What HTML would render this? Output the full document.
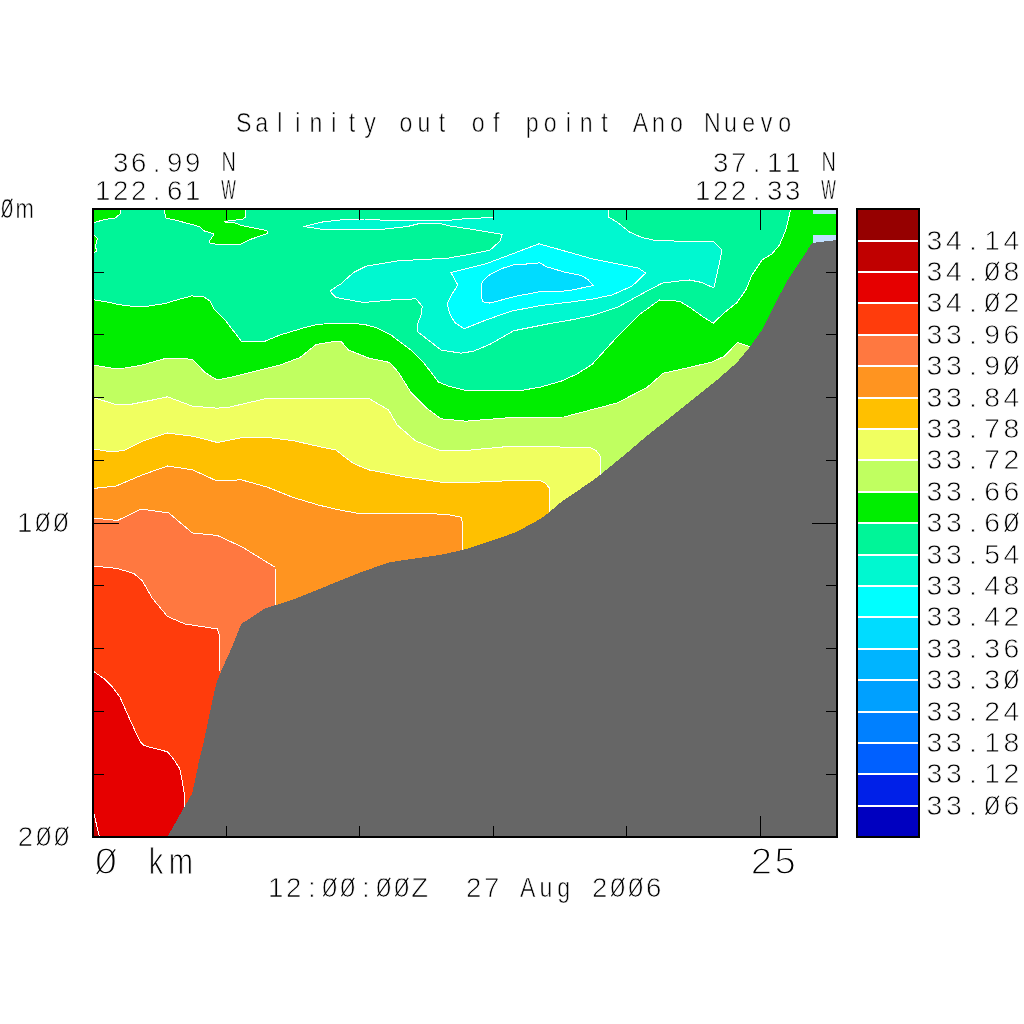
<!DOCTYPE html>
<html lang="en"><head><meta charset="utf-8"><title>Salinity out of point Ano Nuevo</title>
<style>
html,body{margin:0;padding:0;background:#fff;}
body{width:1024px;height:1024px;overflow:hidden;}
svg{display:block;}
.t{font-family:"Liberation Sans", "DejaVu Sans", sans-serif;fill:#000;stroke:#fff;paint-order:fill stroke;text-anchor:middle;white-space:pre;}
.z{stroke:#000;stroke-width:1.1;}
</style></head><body>
<svg width="1024" height="1024" viewBox="0 0 1024 1024">
<defs><clipPath id="cp"><rect x="93.0" y="209.0" width="744.0" height="628.0"/></clipPath></defs>
<rect x="0" y="0" width="1024" height="1024" fill="#fff"/>
<g clip-path="url(#cp)" stroke="#fff" stroke-width="1" stroke-linejoin="round" shape-rendering="crispEdges">
<rect x="93.0" y="209.0" width="744.0" height="628.0" fill="#00f598" stroke="none"/>
<polygon points="93.0,299.6 106.8,302.0 119.2,304.6 134.2,306.5 148.0,306.2 165.5,303.4 178.0,299.6 191.8,295.9 204.2,297.0 210.5,301.5 213.8,308.8 225.0,320.0 242.0,342.0 265.0,341.2 280.0,335.0 305.0,327.5 317.5,324.5 336.0,323.0 363.5,324.2 376.0,327.5 391.0,335.0 411.0,350.0 423.5,362.5 438.5,382.0 448.5,386.2 466.0,390.5 521.0,390.5 541.0,387.0 561.0,381.2 576.0,374.5 592.0,364.5 617.0,337.0 639.5,314.5 659.5,300.0 679.5,301.2 692.0,308.8 702.0,316.2 713.2,323.2 724.5,312.5 737.0,302.5 745.8,290.0 752.0,275.0 762.0,260.0 772.0,253.8 779.5,245.0 785.8,230.0 790.8,209.0 840.0,209.0 840.0,840.0 90.0,840.0 90.0,299.6" fill="#00ee00"/>
<polygon points="93.0,209.0 120.8,209.0 120.5,213.4 115.5,218.0 104.2,219.6 93.0,223.0" fill="#00ee00"/>
<polygon points="164.2,209.0 165.8,218.0 175.5,220.2 185.5,222.8 199.2,226.5 204.2,230.9 214.2,234.0 209.2,241.5 210.5,243.4 216.0,244.2 240.0,244.5 250.0,239.5 267.0,233.8 267.0,230.5 242.5,225.8 235.0,223.0 224.5,222.0 230.0,220.5 242.5,219.5 245.5,217.0 245.5,209.0" fill="#00ee00"/>
<polygon points="93.0,234.0 97.4,238.4 95.5,246.5 96.8,251.5 93.0,252.8" fill="#00ee00"/>
<polygon points="93.0,365.0 112.5,368.2 125.0,368.0 142.5,365.0 162.5,359.2 167.5,358.2 192.5,359.2 205.0,372.5 217.0,380.0 230.0,377.5 255.0,371.2 280.0,365.0 300.0,357.5 316.2,344.5 336.0,341.2 341.0,341.2 348.5,350.0 368.5,358.0 389.8,362.5 398.5,372.5 411.0,392.5 426.0,407.5 441.0,418.8 466.0,421.2 511.0,417.5 563.8,417.0 595.0,408.8 617.0,403.0 647.0,387.5 663.2,373.2 687.0,368.0 712.0,362.0 724.5,356.2 737.5,342.5 749.0,346.2 749.0,386.2 749.0,840.0 90.0,840.0 90.0,365.0" fill="#c0ff60"/>
<polygon points="93.0,397.5 117.5,405.0 130.0,404.5 152.5,400.0 167.5,396.8 192.5,406.2 217.5,408.2 230.0,407.0 265.0,398.8 292.5,398.2 336.0,399.0 368.5,398.2 388.5,410.0 397.2,425.0 416.0,441.2 438.5,450.0 471.0,450.0 511.0,446.2 590.0,447.5 596.2,450.6 600.0,455.6 600.6,475.0 600.6,515.0 600.6,840.0 90.0,840.0 90.0,397.5" fill="#f0ff60"/>
<polygon points="93.0,448.8 112.5,452.0 125.0,450.0 142.5,441.2 167.5,433.0 192.5,436.2 217.5,442.5 242.5,437.5 267.5,437.5 292.5,440.5 317.5,446.2 336.0,450.0 343.5,456.0 353.5,463.5 368.5,469.8 406.0,477.2 441.0,482.2 476.0,482.2 516.0,480.4 540.0,480.6 545.0,483.0 549.4,488.0 549.6,512.0 549.6,552.0 549.6,840.0 90.0,840.0 90.0,448.8" fill="#ffc000"/>
<polygon points="93.0,488.5 116.2,486.0 142.5,474.8 167.5,466.0 192.5,469.8 217.0,481.0 241.2,479.8 267.5,487.2 292.5,497.2 317.5,504.8 336.0,509.2 361.0,514.0 391.0,513.0 423.5,513.0 448.5,514.8 461.0,517.2 462.8,523.5 463.0,549.8 463.0,589.8 463.0,840.0 90.0,840.0 90.0,488.5" fill="#ff9420"/>
<polygon points="93.0,518.0 117.5,520.5 141.2,509.0 168.8,513.0 192.5,533.0 217.5,535.5 242.5,547.2 275.0,567.2 275.5,604.8 275.5,644.8 275.5,840.0 90.0,840.0 90.0,518.0" fill="#ff7840"/>
<polygon points="93.0,566.0 117.5,568.5 133.8,573.5 142.5,581.0 152.5,598.5 167.5,616.5 185.0,624.0 217.5,629.0 219.5,636.0 220.0,671.0 220.0,711.0 220.0,840.0 90.0,840.0 90.0,566.0" fill="#ff3c0c"/>
<polygon points="93.0,671.0 103.8,678.5 112.5,687.2 120.0,697.2 131.2,722.5 140.0,741.2 143.8,745.5 167.5,751.8 174.2,760.0 179.7,768.6 182.0,779.5 183.6,789.7 184.6,796.0 184.6,807.0 184.6,847.0 184.6,840.0 90.0,840.0 90.0,671.0" fill="#e60000"/>
<polygon points="90.0,810.0 93.0,810.0 99.5,837.0 90.0,840.0" fill="#c00000"/>
<polygon points="303.8,226.5 322.5,222.0 345.0,219.5 365.0,219.0 382.5,220.2 450.0,220.2 470.0,218.2 493.0,217.8 493.5,209.0 608.2,209.0 609.0,217.5 617.0,222.0 629.5,232.0 642.0,237.5 657.0,240.8 689.5,241.2 713.2,241.2 722.0,250.0 719.5,262.5 716.2,277.5 713.8,288.0 702.0,282.5 689.5,280.0 677.0,281.2 662.0,283.2 642.0,293.8 617.0,307.5 592.0,315.5 573.5,319.5 548.5,323.8 513.5,330.8 491.0,343.8 473.5,351.2 461.0,353.2 441.0,350.0 418.0,332.0 417.2,325.0 421.0,315.0 422.2,306.2 416.0,298.8 391.0,300.0 363.5,302.5 336.0,297.5 330.0,291.2 336.0,286.8 341.0,283.8 353.5,272.5 366.0,266.2 398.5,260.8 447.5,258.2 465.0,255.2 490.0,250.2 499.8,241.2 502.2,234.4 475.0,229.8 450.0,226.0 440.0,223.5 417.5,224.0 407.5,226.5 385.0,229.0 320.0,229.0" fill="#00f8d0"/>
<polygon points="451.0,272.5 486.0,263.8 516.0,252.5 539.0,243.8 561.0,250.0 592.0,258.8 617.0,263.8 638.2,268.0 645.8,273.0 632.0,286.2 612.0,295.0 592.0,299.2 571.0,302.0 541.0,305.5 511.0,311.2 486.0,320.0 464.0,328.8 454.8,322.5 449.8,313.8 447.2,303.8 452.2,293.8 457.8,285.0" fill="#00ffff"/>
<polygon points="481.4,283.9 483.0,280.8 490.0,274.5 502.5,268.3 514.2,264.7 533.8,263.6 540.0,262.8 546.2,266.7 565.0,272.2 580.6,275.3 587.7,279.2 593.1,285.5 568.1,290.9 540.0,291.7 515.0,296.4 490.0,303.1 483.0,301.9 481.4,297.2" fill="#00dcff"/>
<rect x="812.5" y="209" width="26" height="5" fill="#c0e0ff" stroke="none"/>
<rect x="812.5" y="235" width="26" height="9" fill="#c0e0ff" stroke="none"/>
<polygon points="837.0,240.0 812.0,243.0 799.5,262.5 787.0,281.2 777.0,300.0 767.0,320.0 762.0,330.0 749.5,347.5 737.0,362.5 717.0,380.0 692.0,400.0 667.0,420.0 648.0,435.0 623.2,456.0 600.0,475.0 592.0,481.0 561.0,502.2 549.6,512.0 541.0,518.5 516.0,532.2 491.0,541.0 463.5,549.8 441.0,554.8 389.8,562.2 361.0,572.2 336.0,582.2 317.5,589.8 292.5,599.8 265.0,608.5 241.2,624.0 232.5,646.0 221.2,671.0 216.2,683.5 210.0,712.0 202.5,747.5 199.2,760.0 196.9,771.7 192.2,793.6 184.4,806.9 167.3,837.0 837.0,837.0" fill="#666666" stroke="none"/>
</g>
<g stroke="#000" fill="none" shape-rendering="crispEdges">
<rect x="93.0" y="209.0" width="744.0" height="628.0" stroke-width="2"/>
<line x1="93.0" y1="272.5" x2="104.0" y2="272.5"/>
<line x1="837.0" y1="272.5" x2="826.0" y2="272.5"/>
<line x1="93.0" y1="334.5" x2="104.0" y2="334.5"/>
<line x1="837.0" y1="334.5" x2="826.0" y2="334.5"/>
<line x1="93.0" y1="397.5" x2="104.0" y2="397.5"/>
<line x1="837.0" y1="397.5" x2="826.0" y2="397.5"/>
<line x1="93.0" y1="460.5" x2="104.0" y2="460.5"/>
<line x1="837.0" y1="460.5" x2="826.0" y2="460.5"/>
<line x1="93.0" y1="523.5" x2="118.5" y2="523.5"/>
<line x1="837.0" y1="523.5" x2="811.5" y2="523.5"/>
<line x1="93.0" y1="585.5" x2="104.0" y2="585.5"/>
<line x1="837.0" y1="585.5" x2="826.0" y2="585.5"/>
<line x1="93.0" y1="648.5" x2="104.0" y2="648.5"/>
<line x1="837.0" y1="648.5" x2="826.0" y2="648.5"/>
<line x1="93.0" y1="711.5" x2="104.0" y2="711.5"/>
<line x1="837.0" y1="711.5" x2="826.0" y2="711.5"/>
<line x1="93.0" y1="774.5" x2="104.0" y2="774.5"/>
<line x1="837.0" y1="774.5" x2="826.0" y2="774.5"/>
<line x1="226.5" y1="209.0" x2="226.5" y2="220.0"/>
<line x1="226.5" y1="837.0" x2="226.5" y2="826.0"/>
<line x1="359.5" y1="209.0" x2="359.5" y2="220.0"/>
<line x1="359.5" y1="837.0" x2="359.5" y2="826.0"/>
<line x1="493.5" y1="209.0" x2="493.5" y2="220.0"/>
<line x1="493.5" y1="837.0" x2="493.5" y2="826.0"/>
<line x1="626.5" y1="209.0" x2="626.5" y2="220.0"/>
<line x1="626.5" y1="837.0" x2="626.5" y2="826.0"/>
<line x1="760.5" y1="209.0" x2="760.5" y2="230.0"/>
<line x1="760.5" y1="837.0" x2="760.5" y2="816.0"/>
</g>
<g shape-rendering="crispEdges">
<rect x="857.0" y="209.00" width="62.0" height="31.90" fill="#960000"/>
<rect x="857.0" y="240.40" width="62.0" height="31.90" fill="#c00000"/>
<rect x="857.0" y="271.80" width="62.0" height="31.90" fill="#e60000"/>
<rect x="857.0" y="303.20" width="62.0" height="31.90" fill="#ff3c0c"/>
<rect x="857.0" y="334.60" width="62.0" height="31.90" fill="#ff7840"/>
<rect x="857.0" y="366.00" width="62.0" height="31.90" fill="#ff9420"/>
<rect x="857.0" y="397.40" width="62.0" height="31.90" fill="#ffc000"/>
<rect x="857.0" y="428.80" width="62.0" height="31.90" fill="#f0ff60"/>
<rect x="857.0" y="460.20" width="62.0" height="31.90" fill="#c0ff60"/>
<rect x="857.0" y="491.60" width="62.0" height="31.90" fill="#00ee00"/>
<rect x="857.0" y="523.00" width="62.0" height="31.90" fill="#00f598"/>
<rect x="857.0" y="554.40" width="62.0" height="31.90" fill="#00f8d0"/>
<rect x="857.0" y="585.80" width="62.0" height="31.90" fill="#00ffff"/>
<rect x="857.0" y="617.20" width="62.0" height="31.90" fill="#00dcff"/>
<rect x="857.0" y="648.60" width="62.0" height="31.90" fill="#00b4ff"/>
<rect x="857.0" y="680.00" width="62.0" height="31.90" fill="#00a0ff"/>
<rect x="857.0" y="711.40" width="62.0" height="31.90" fill="#0080ff"/>
<rect x="857.0" y="742.80" width="62.0" height="31.90" fill="#0060ff"/>
<rect x="857.0" y="774.20" width="62.0" height="31.90" fill="#0020e8"/>
<rect x="857.0" y="805.60" width="62.0" height="31.90" fill="#0000c0"/>
<rect x="857.0" y="240" width="62.0" height="2" fill="#fff"/>
<rect x="857.0" y="271" width="62.0" height="2" fill="#fff"/>
<rect x="857.0" y="302" width="62.0" height="2" fill="#fff"/>
<rect x="857.0" y="334" width="62.0" height="2" fill="#fff"/>
<rect x="857.0" y="365" width="62.0" height="2" fill="#fff"/>
<rect x="857.0" y="397" width="62.0" height="2" fill="#fff"/>
<rect x="857.0" y="428" width="62.0" height="2" fill="#fff"/>
<rect x="857.0" y="459" width="62.0" height="2" fill="#fff"/>
<rect x="857.0" y="491" width="62.0" height="2" fill="#fff"/>
<rect x="857.0" y="522" width="62.0" height="2" fill="#fff"/>
<rect x="857.0" y="554" width="62.0" height="2" fill="#fff"/>
<rect x="857.0" y="585" width="62.0" height="2" fill="#fff"/>
<rect x="857.0" y="616" width="62.0" height="2" fill="#fff"/>
<rect x="857.0" y="648" width="62.0" height="2" fill="#fff"/>
<rect x="857.0" y="679" width="62.0" height="2" fill="#fff"/>
<rect x="857.0" y="711" width="62.0" height="2" fill="#fff"/>
<rect x="857.0" y="742" width="62.0" height="2" fill="#fff"/>
<rect x="857.0" y="773" width="62.0" height="2" fill="#fff"/>
<rect x="857.0" y="805" width="62.0" height="2" fill="#fff"/>
<rect x="857.0" y="209.0" width="62.0" height="628.0" fill="none" stroke="#000" stroke-width="2"/>
</g>
<text class="t" transform="scale(0.840,1)" x="290.2 311.6 333.1 354.6 376.0 397.5 419.0 440.4" y="132.2" font-size="27.6px" stroke-width="0.58">Salinity</text>
<text class="t" transform="scale(0.840,1)" x="483.4 504.8 526.3" y="132.2" font-size="27.6px" stroke-width="0.58">out</text>
<text class="t" transform="scale(0.840,1)" x="569.2 590.7" y="132.2" font-size="27.6px" stroke-width="0.58">of</text>
<text class="t" transform="scale(0.840,1)" x="633.6 655.1 676.5 698.0 719.5" y="132.2" font-size="27.6px" stroke-width="0.58">point</text>
<text class="t" transform="scale(0.840,1)" x="762.4 783.9 805.3" y="132.2" font-size="27.6px" stroke-width="0.58">Ano</text>
<text class="t" transform="scale(0.840,1)" x="848.2 869.7 891.2 912.6 934.1" y="132.2" font-size="27.6px" stroke-width="0.58">Nuevo</text>
<text class="t" x="120.6 138.6 156.6 174.6 192.6" y="171.5" font-size="27.6px" stroke-width="0.75">36.99</text>
<text class="t" transform="scale(0.720,1)" x="317.5" y="171.5" font-size="27.6px" stroke-width="0.58">N</text>
<text class="t" x="102.6 120.6 138.6 156.6 174.6 192.6" y="199.5" font-size="27.6px" stroke-width="0.75">122.61</text>
<text class="t" transform="scale(0.560,1)" x="408.2" y="199.5" font-size="27.6px" stroke-width="0.58">W</text>
<text class="t" x="720.6 738.6 756.6 774.6 792.6" y="171.5" font-size="27.6px" stroke-width="0.75">37.11</text>
<text class="t" transform="scale(0.720,1)" x="1150.8" y="171.5" font-size="27.6px" stroke-width="0.58">N</text>
<text class="t" x="702.6 720.6 738.6 756.6 774.6 792.6" y="199.5" font-size="27.6px" stroke-width="0.75">122.33</text>
<text class="t" transform="scale(0.560,1)" x="1479.6" y="199.5" font-size="27.6px" stroke-width="0.58">W</text>
<text class="t" transform="scale(0.800,1)" x="8.8 30.9" y="217.8" font-size="27.6px" stroke-width="0.58">0m</text>
<line class="z" x1="1.8" y1="217.2" x2="12.2" y2="198.8"/>
<text class="t" x="24.6 42.8 61.0" y="531.5" font-size="27.6px" stroke-width="0.75">100</text>
<line class="z" x1="36.4" y1="530.9" x2="49.2" y2="512.6"/>
<line class="z" x1="54.6" y1="530.9" x2="67.4" y2="512.6"/>
<text class="t" x="25.4 43.6 61.8" y="845.8" font-size="27.6px" stroke-width="0.75">200</text>
<line class="z" x1="37.2" y1="845.1" x2="50.0" y2="826.8"/>
<line class="z" x1="55.4" y1="845.1" x2="68.2" y2="826.8"/>
<text class="t" transform="scale(1.080,1)" x="98.1" y="874.5" font-size="36.4px" stroke-width="1.31">0</text>
<line class="z" x1="96.8" y1="873.9" x2="115.2" y2="849.4"/>
<text class="t" transform="scale(0.800,1)" x="195.0 226.2" y="874.5" font-size="36.4px" stroke-width="1.02">km</text>
<text class="t" transform="scale(1.050,1)" x="725.1 747.8" y="874.5" font-size="36.4px" stroke-width="1.31">25</text>
<text class="t" x="275.8 293.8 311.8 329.8 347.8 365.8 383.8 401.8 419.8" y="896.8" font-size="27.6px" stroke-width="0.75">12:00:00Z</text>
<line class="z" x1="323.4" y1="896.2" x2="336.2" y2="877.9"/>
<line class="z" x1="341.4" y1="896.2" x2="354.2" y2="877.9"/>
<line class="z" x1="377.4" y1="896.2" x2="390.2" y2="877.9"/>
<line class="z" x1="395.4" y1="896.2" x2="408.2" y2="877.9"/>
<text class="t" x="473.8 491.8" y="896.8" font-size="27.6px" stroke-width="0.75">27</text>
<text class="t" transform="scale(0.840,1)" x="628.3 649.8 671.2" y="896.8" font-size="27.6px" stroke-width="0.58">Aug</text>
<text class="t" x="599.8 617.8 635.8 653.8" y="896.8" font-size="27.6px" stroke-width="0.75">2006</text>
<line class="z" x1="611.4" y1="896.2" x2="624.2" y2="877.9"/>
<line class="z" x1="629.4" y1="896.2" x2="642.2" y2="877.9"/>
<text class="t" x="934.5 953.8 973.0 992.2 1011.5" y="250.2" font-size="28.4px" stroke-width="0.77">34.14</text>
<text class="t" x="934.5 953.8 973.0 992.2 1011.5" y="281.2" font-size="28.4px" stroke-width="0.77">34.08</text>
<line class="z" x1="985.6" y1="280.6" x2="998.9" y2="261.7"/>
<text class="t" x="934.5 953.8 973.0 992.2 1011.5" y="312.2" font-size="28.4px" stroke-width="0.77">34.02</text>
<line class="z" x1="985.6" y1="311.6" x2="998.9" y2="292.7"/>
<text class="t" x="934.5 953.8 973.0 992.2 1011.5" y="344.2" font-size="28.4px" stroke-width="0.77">33.96</text>
<text class="t" x="934.5 953.8 973.0 992.2 1011.5" y="375.2" font-size="28.4px" stroke-width="0.77">33.90</text>
<line class="z" x1="1004.9" y1="374.6" x2="1018.1" y2="355.7"/>
<text class="t" x="934.5 953.8 973.0 992.2 1011.5" y="407.2" font-size="28.4px" stroke-width="0.77">33.84</text>
<text class="t" x="934.5 953.8 973.0 992.2 1011.5" y="438.2" font-size="28.4px" stroke-width="0.77">33.78</text>
<text class="t" x="934.5 953.8 973.0 992.2 1011.5" y="469.2" font-size="28.4px" stroke-width="0.77">33.72</text>
<text class="t" x="934.5 953.8 973.0 992.2 1011.5" y="501.2" font-size="28.4px" stroke-width="0.77">33.66</text>
<text class="t" x="934.5 953.8 973.0 992.2 1011.5" y="532.2" font-size="28.4px" stroke-width="0.77">33.60</text>
<line class="z" x1="1004.9" y1="531.6" x2="1018.1" y2="512.7"/>
<text class="t" x="934.5 953.8 973.0 992.2 1011.5" y="564.2" font-size="28.4px" stroke-width="0.77">33.54</text>
<text class="t" x="934.5 953.8 973.0 992.2 1011.5" y="595.2" font-size="28.4px" stroke-width="0.77">33.48</text>
<text class="t" x="934.5 953.8 973.0 992.2 1011.5" y="626.2" font-size="28.4px" stroke-width="0.77">33.42</text>
<text class="t" x="934.5 953.8 973.0 992.2 1011.5" y="658.2" font-size="28.4px" stroke-width="0.77">33.36</text>
<text class="t" x="934.5 953.8 973.0 992.2 1011.5" y="689.2" font-size="28.4px" stroke-width="0.77">33.30</text>
<line class="z" x1="1004.9" y1="688.6" x2="1018.1" y2="669.7"/>
<text class="t" x="934.5 953.8 973.0 992.2 1011.5" y="721.2" font-size="28.4px" stroke-width="0.77">33.24</text>
<text class="t" x="934.5 953.8 973.0 992.2 1011.5" y="752.2" font-size="28.4px" stroke-width="0.77">33.18</text>
<text class="t" x="934.5 953.8 973.0 992.2 1011.5" y="783.2" font-size="28.4px" stroke-width="0.77">33.12</text>
<text class="t" x="934.5 953.8 973.0 992.2 1011.5" y="815.2" font-size="28.4px" stroke-width="0.77">33.06</text>
<line class="z" x1="985.6" y1="814.6" x2="998.9" y2="795.7"/>
</svg>
</body></html>
